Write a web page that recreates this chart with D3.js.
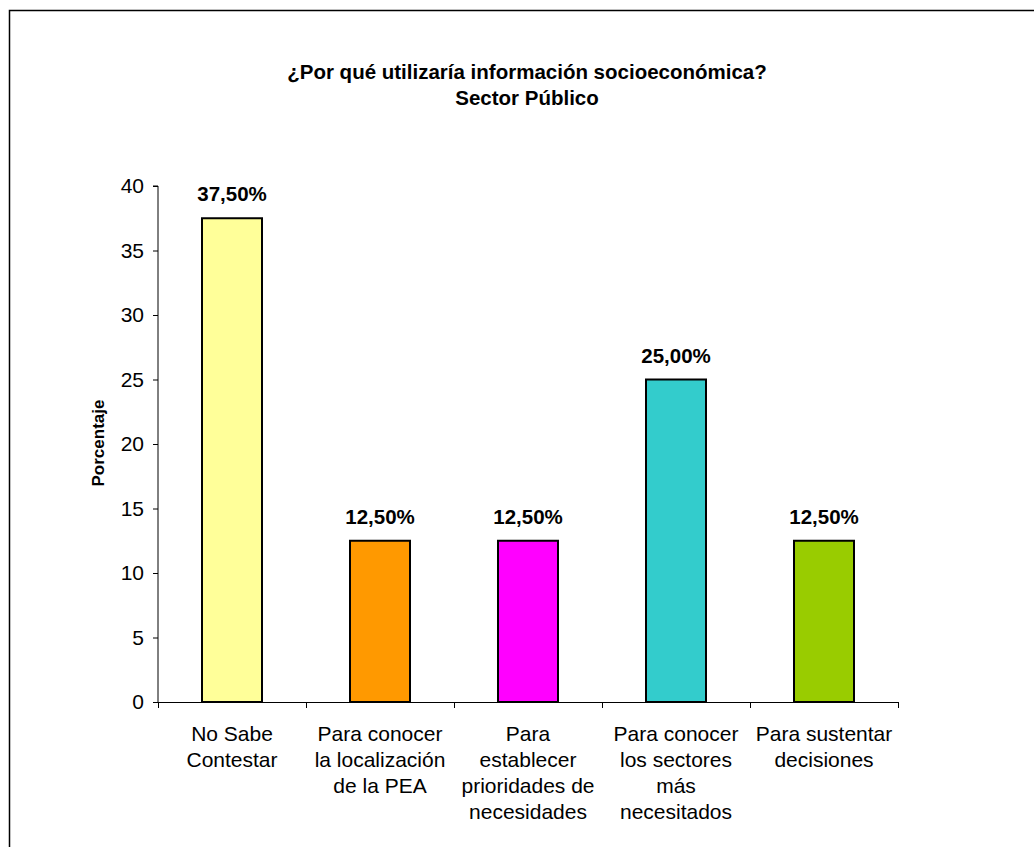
<!DOCTYPE html>
<html>
<head>
<meta charset="utf-8">
<script src="https://cdn.jsdelivr.net/npm/d3@7"></script>
<style>
  html, body { margin: 0; padding: 0; background: #fff; }
  text { font-family: "Liberation Sans", Arial, sans-serif; fill: #000; }
</style>
</head>
<body>
<svg id="chart" width="1034" height="847"></svg>
<script>
const categories = [
  ["No Sabe", "Contestar"],
  ["Para conocer", "la localización", "de la PEA"],
  ["Para", "establecer", "prioridades de", "necesidades"],
  ["Para conocer", "los sectores", "más", "necesitados"],
  ["Para sustentar", "decisiones"]
];
const values = [37.5, 12.5, 12.5, 25.0, 12.5];
const valueLabels = ["37,50%", "12,50%", "12,50%", "25,00%", "12,50%"];
const colors = ["#FFFF99", "#FF9900", "#FF00FF", "#33CCCC", "#99CC00"];
const yTicks = [0, 5, 10, 15, 20, 25, 30, 35, 40];
const titleLines = ["¿Por qué utilizaría información socioeconómica?", "Sector Público"];
const yTitle = "Porcentaje";

(function () {
const svg = d3.select("#chart");

// outer frame
svg.append("rect")
  .attr("x", 9.5).attr("y", 10.5)
  .attr("width", 1100).attr("height", 1000)
  .attr("fill", "none").attr("stroke", "#000").attr("stroke-width", 1.5);

const pLeft = 158, pRight = 898, pTop = 186, pBottom = 702;

const x = d3.scaleBand().domain(d3.range(categories.length)).range([pLeft, pRight]).paddingInner(0).paddingOuter(0);
const y = d3.scaleLinear().domain([0, 40]).range([pBottom, pTop]);

// title
const title = svg.append("text").attr("text-anchor", "middle")
  .style("font-weight", "bold").style("font-size", "20.5px");
titleLines.forEach((t, i) => {
  title.append("tspan").attr("x", 527).attr("y", 79 + i * 26).text(t);
});

// y axis
const yAxis = d3.axisLeft(y).tickValues(yTicks).tickSize(5).tickPadding(9);
const gy = svg.append("g").attr("transform", `translate(${pLeft},0)`).call(yAxis);
gy.select(".domain").attr("stroke", "#000").attr("d", `M-5,${pTop}H0V${pBottom}`);
gy.selectAll(".tick line").attr("stroke", "#000");
gy.selectAll(".tick text").style("font-size", "21px").style("font-family", '"Liberation Sans", Arial, sans-serif').attr("fill", "#000");

// x axis
const bw = x.bandwidth();
svg.append("line").attr("x1", pLeft).attr("x2", pRight).attr("y1", pBottom + 0.5).attr("y2", pBottom + 0.5).attr("stroke", "#000");
const boundaries = d3.range(categories.length + 1).map(i => pLeft + i * bw);
svg.selectAll(".xtick").data(boundaries).enter().append("line")
  .attr("x1", d => Math.round(d) + 0.5).attr("x2", d => Math.round(d) + 0.5)
  .attr("y1", pBottom).attr("y2", pBottom + 6).attr("stroke", "#000");

// bars
const barW = 60;
svg.selectAll(".bar").data(values).enter().append("rect")
  .attr("x", (d, i) => x(i) + bw / 2 - barW / 2)
  .attr("y", d => y(d))
  .attr("width", barW)
  .attr("height", d => pBottom - y(d))
  .attr("fill", (d, i) => colors[i])
  .attr("stroke", "#000").attr("stroke-width", 2);

// value labels
svg.selectAll(".vlab").data(values).enter().append("text")
  .attr("x", (d, i) => x(i) + bw / 2)
  .attr("y", d => y(d) - 17)
  .attr("text-anchor", "middle")
  .style("font-weight", "bold").style("font-size", "20.5px")
  .text((d, i) => valueLabels[i]);

// category labels
categories.forEach((lines, i) => {
  const t = svg.append("text").attr("text-anchor", "middle").style("font-size", "21px");
  lines.forEach((ln, j) => {
    t.append("tspan").attr("x", x(i) + bw / 2).attr("y", pBottom + 39 + j * 26).text(ln);
  });
});

// y title
svg.append("text")
  .attr("transform", `translate(${104},${443}) rotate(-90)`)
  .attr("text-anchor", "middle")
  .style("font-weight", "bold").style("font-size", "17px")
  .text(yTitle);
})();
</script>
</body>
</html>
